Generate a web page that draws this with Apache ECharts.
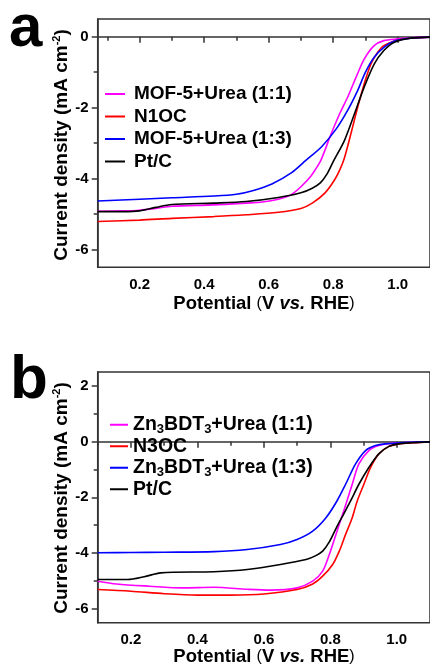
<!DOCTYPE html>
<html>
<head>
<meta charset="utf-8">
<script src="https://cdn.jsdelivr.net/npm/echarts@6/dist/echarts.min.js"></script>
<style>html,body{margin:0;padding:0;background:#fff}#c{width:430px;height:671px}</style>
</head>
<body>
<div id="c"></div>
<script>
// ---------- DATA ----------
// Panel a : [potential V vs RHE, current density mA cm-2]
const namesA = ['MOF-5+Urea (1:1)', 'N1OC', 'MOF-5+Urea (1:3)', 'Pt/C'];
const magentaA = [[0.07,-4.92],[0.15,-4.91],[0.2,-4.89],[0.25,-4.84],[0.3,-4.78],[0.43,-4.74],[0.53,-4.69],[0.58,-4.66],[0.63,-4.58],[0.67,-4.45],[0.70,-4.23],[0.73,-3.94],[0.745,-3.74],[0.762,-3.48],[0.794,-2.73],[0.82,-2.17],[0.845,-1.70],[0.871,-1.14],[0.896,-0.63],[0.927,-0.25],[0.957,-0.11],[1.0,-0.06],[1.04,-0.03],[1.1,-0.01]];
const redA = [[0.07,-5.21],[0.2,-5.17],[0.3,-5.12],[0.43,-5.07],[0.53,-5.02],[0.63,-4.95],[0.70,-4.84],[0.735,-4.69],[0.774,-4.41],[0.804,-4.04],[0.82,-3.76],[0.834,-3.44],[0.855,-2.73],[0.876,-1.98],[0.896,-1.33],[0.917,-0.77],[0.937,-0.45],[0.957,-0.25],[1.0,-0.09],[1.04,-0.04],[1.1,-0.01]];
const blueA = [[0.07,-4.63],[0.2,-4.58],[0.3,-4.54],[0.43,-4.49],[0.5,-4.44],[0.55,-4.34],[0.61,-4.15],[0.67,-3.84],[0.716,-3.48],[0.764,-3.10],[0.81,-2.59],[0.845,-2.07],[0.876,-1.51],[0.90,-1.0],[0.927,-0.58],[0.957,-0.30],[0.988,-0.13],[1.04,-0.04],[1.1,-0.01]];
const blackA = [[0.07,-4.93],[0.15,-4.93],[0.2,-4.91],[0.25,-4.81],[0.3,-4.73],[0.43,-4.69],[0.53,-4.645],[0.63,-4.53],[0.70,-4.40],[0.735,-4.27],[0.76,-4.12],[0.78,-3.88],[0.80,-3.52],[0.835,-2.92],[0.866,-2.17],[0.896,-1.42],[0.927,-0.77],[0.957,-0.39],[0.988,-0.16],[1.04,-0.04],[1.1,-0.01]];

// Panel b
const namesB = ['Zn3BDT3+Urea (1:1)', 'N3OC', 'Zn3BDT3+Urea (1:3)', 'Pt/C'];
const magentaB = [[0.1,-5.01],[0.157,-5.11],[0.256,-5.19],[0.355,-5.25],[0.45,-5.23],[0.55,-5.30],[0.62,-5.33],[0.70,-5.25],[0.747,-5.01],[0.777,-4.65],[0.797,-4.05],[0.817,-3.33],[0.837,-2.61],[0.85,-2.13],[0.866,-1.53],[0.886,-0.80],[0.916,-0.32],[0.946,-0.14],[0.985,-0.06],[1.045,-0.03],[1.1,-0.01]];
const redB = [[0.1,-5.31],[0.2,-5.37],[0.3,-5.46],[0.4,-5.51],[0.5,-5.51],[0.6,-5.47],[0.70,-5.31],[0.747,-5.11],[0.777,-4.83],[0.807,-4.41],[0.827,-3.93],[0.846,-3.33],[0.866,-2.73],[0.881,-2.13],[0.901,-1.53],[0.921,-0.93],[0.946,-0.44],[0.975,-0.18],[1.005,-0.08],[1.045,-0.04],[1.1,-0.01]];
const blueB = [[0.1,-3.99],[0.2,-3.98],[0.3,-3.97],[0.45,-3.95],[0.55,-3.87],[0.65,-3.69],[0.70,-3.51],[0.747,-3.21],[0.787,-2.73],[0.82,-2.13],[0.846,-1.53],[0.876,-0.80],[0.906,-0.32],[0.936,-0.14],[0.965,-0.08],[1.045,-0.02],[1.1,-0.01]];
const blackB = [[0.1,-4.95],[0.19,-4.95],[0.24,-4.85],[0.29,-4.71],[0.45,-4.67],[0.55,-4.59],[0.65,-4.41],[0.727,-4.23],[0.755,-4.10],[0.777,-3.93],[0.797,-3.60],[0.817,-3.12],[0.841,-2.58],[0.861,-2.13],[0.886,-1.53],[0.916,-0.93],[0.946,-0.44],[0.975,-0.18],[1.005,-0.08],[1.045,-0.04],[1.1,-0.01]];

// Tick values
const xMajor = [0.2, 0.4, 0.6, 0.8, 1.0];
const xMinor = [0.1, 0.3, 0.5, 0.7, 0.9];
const yMajorA = [-6, -4, -2, 0];
const yMinorA = [-5, -3, -1];
const yMajorB = [-6, -4, -2, 0, 2];
const yMinorB = [-5, -3, -1, 1];

// ---------- CHART ----------
const FONT = "'Liberation Sans', Arial, Helvetica, sans-serif";
const AX = '#333';
const colors = ['#ff00ff', '#ff0000', '#0000ff', '#000000'];

function mainX(gi, min, max) {
  return {
    type: 'value', gridIndex: gi, min: min, max: max, position: 'bottom',
    axisLine: {show: true, lineStyle: {color: AX, width: 1.5}},
    axisTick: {show: true, inside: false, length: 6, customValues: xMajor, lineStyle: {color: AX, width: 1.5}},
    axisLabel: {show: true, customValues: xMajor, margin: 10, formatter: v => v.toFixed(1),
      color: '#000', fontFamily: FONT, fontWeight: 'bold', fontSize: 15},
    splitLine: {show: false}
  };
}
function minorX(gi, min, max) {
  return {
    type: 'value', gridIndex: gi, min: min, max: max, position: 'bottom',
    axisLine: {show: false},
    axisTick: {show: true, inside: false, length: 4, customValues: xMinor, lineStyle: {color: AX, width: 1.5}},
    axisLabel: {show: false}, splitLine: {show: false}
  };
}
function mainY(gi, min, max, vals) {
  return {
    type: 'value', gridIndex: gi, min: min, max: max, position: 'left',
    axisLine: {show: true, lineStyle: {color: AX, width: 1.5}},
    axisTick: {show: true, inside: false, length: 6, customValues: vals, lineStyle: {color: AX, width: 1.5}},
    axisLabel: {show: true, customValues: vals, margin: 9,
      color: '#000', fontFamily: FONT, fontWeight: 'bold', fontSize: 15},
    splitLine: {show: false}
  };
}
function minorY(gi, min, max, vals) {
  return {
    type: 'value', gridIndex: gi, min: min, max: max, position: 'left',
    axisLine: {show: false},
    axisTick: {show: true, inside: false, length: 4, customValues: vals, lineStyle: {color: AX, width: 1.5}},
    axisLabel: {show: false}, splitLine: {show: false}
  };
}
function line(name, data, color, xi, yi) {
  return {
    type: 'line', name: name, data: data, xAxisIndex: xi, yAxisIndex: yi,
    symbol: 'none', showSymbol: false, smooth: 0.3,
    lineStyle: {color: color, width: 1.6}, itemStyle: {color: color}, z: 3
  };
}

const richB = {
  'Zn3BDT3+Urea (1:1)': '{t|Zn}{s|3}{t|BDT}{s|3}{t|+Urea (1:1)}',
  'Zn3BDT3+Urea (1:3)': '{t|Zn}{s|3}{t|BDT}{s|3}{t|+Urea (1:3)}'
};

function yTitle(cx, cy) {
  return {
    type: 'text', x: cx, y: cy, rotation: Math.PI / 2,
    style: {
      x: 0, y: 0, text: '{m|Current density (mA cm}{s|-2}{m|)}', textAlign: 'center', verticalAlign: 'middle',
      rich: {
        m: {fontFamily: FONT, fontWeight: 'bold', fontSize: 19, fill: '#000', lineHeight: 22},
        s: {fontFamily: FONT, fontWeight: 'bold', fontSize: 11, fill: '#000', lineHeight: 6, verticalAlign: 'top'}
      }
    }
  };
}
function xTitle(cx, cy) {
  return {
    type: 'text', x: cx, y: cy,
    style: {
      x: 0, y: 0, text: '{b|Potential }{p|(}{b|V }{i|vs.}{b| RHE}{p|)}', textAlign: 'center', verticalAlign: 'middle',
      rich: {
        b: {fontFamily: FONT, fontWeight: 'bold', fontSize: 18.5, fill: '#000'},
        i: {fontFamily: FONT, fontWeight: 'bold', fontStyle: 'italic', fontSize: 18.5, fill: '#000'},
        p: {fontFamily: FONT, fontWeight: 'normal', fontSize: 16, fill: '#000'}
      }
    }
  };
}
function letter(t, cx, cy, size) {
  return {type: 'text', x: cx, y: cy,
    style: {x: 0, y: 0, text: t, textAlign: 'left', verticalAlign: 'middle',
      font: 'bold ' + size + 'px ' + FONT, fill: '#000'}};
}

const chart = echarts.init(document.getElementById('c'), null, {renderer: 'canvas'});
chart.setOption({
  animation: false,
  backgroundColor: '#fff',
  grid: [
    {left: 97.7, top: 19, width: 336.8, height: 248.3, show: true, borderColor: AX, borderWidth: 1.5, containLabel: false},
    {left: 97.7, top: 372, width: 336.3, height: 250.7, show: true, borderColor: AX, borderWidth: 1.5, containLabel: false}
  ],
  xAxis: [mainX(0, 0.07, 1.1), minorX(0, 0.07, 1.1), mainX(1, 0.1, 1.1), minorX(1, 0.1, 1.1)],
  yAxis: [mainY(0, -6.5, 0.5, yMajorA), minorY(0, -6.5, 0.5, yMinorA), mainY(1, -6.5, 2.5, yMajorB), minorY(1, -6.5, 2.5, yMinorB)],
  legend: [
    {data: namesA, orient: 'vertical', left: 105, top: 84.5, padding: 0, itemWidth: 20, itemHeight: 2, itemGap: 3.5,
      icon: 'rect', selectedMode: false,
      textStyle: {fontFamily: FONT, fontWeight: 'bold', fontSize: 19, color: '#000', lineHeight: 14, padding: [0, 0, 0, 4]}},
    {data: namesB, orient: 'vertical', left: 110, top: 414, padding: 0, itemWidth: 18, itemHeight: 2, itemGap: 0,
      icon: 'rect', selectedMode: false,
      formatter: n => richB[n] || ('{t|' + n + '}'),
      textStyle: {fontFamily: FONT, fontWeight: 'bold', fontSize: 19, color: '#000', lineHeight: 21.5, padding: [0, 0, 0, 0],
        rich: {
          t: {fontFamily: FONT, fontWeight: 'bold', fontSize: 19.5, color: '#000', lineHeight: 21.5},
          s: {fontFamily: FONT, fontWeight: 'bold', fontSize: 13, color: '#000', lineHeight: 1, verticalAlign: 'bottom'}
        }}}
  ],
  series: [
    line(namesA[0], magentaA, colors[0], 0, 0),
    line(namesA[1], redA, colors[1], 0, 0),
    line(namesA[2], blueA, colors[2], 0, 0),
    line(namesA[3], blackA, colors[3], 0, 0),
    line(namesB[0], magentaB, colors[0], 2, 2),
    line(namesB[1], redB, colors[1], 2, 2),
    line(namesB[2], blueB, colors[2], 2, 2),
    line(namesB[3], blackB, colors[3], 2, 2)
  ],
  graphic: [
    letter('a', 9, 29, 60),
    letter('b', 10, 381, 62),
    yTitle(62, 145),
    yTitle(62, 498),
    xTitle(264, 303.5),
    xTitle(264, 656.5)
  ]
});
</script>
</body>
</html>
